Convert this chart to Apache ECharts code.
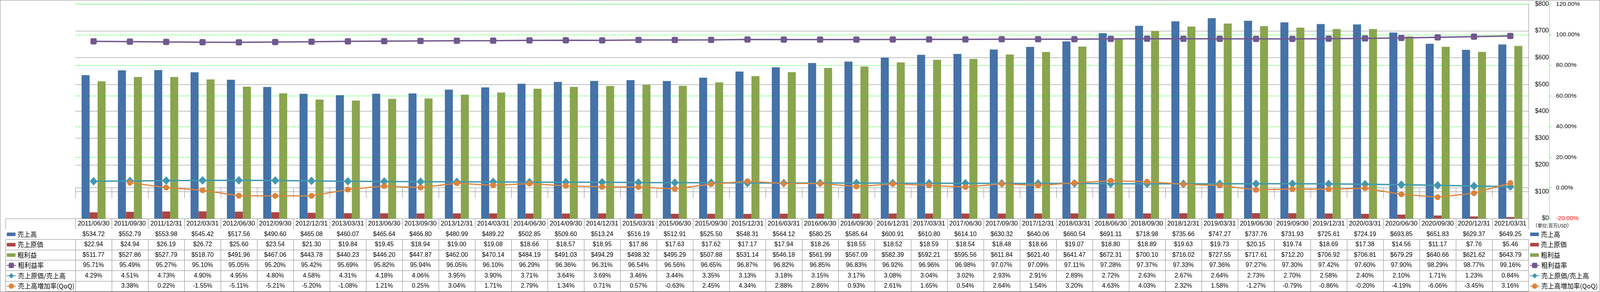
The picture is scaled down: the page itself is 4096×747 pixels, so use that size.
<!DOCTYPE html>
<html><head><meta charset="utf-8">
<script src="https://cdn.jsdelivr.net/npm/echarts@6/dist/echarts.min.js"></script>
<style>html,body{margin:0;padding:0;background:#fff}#c{width:4096px;height:747px}</style>
</head><body><div id="c"></div>
<script>
// ---------- data ----------
const categories = ['2011/06/30','2011/09/30','2011/12/31','2012/03/31','2012/06/30','2012/09/30','2012/12/31','2013/03/31','2013/06/30','2013/09/30','2013/12/31','2014/03/31','2014/06/30','2014/09/30','2014/12/31','2015/03/31','2015/06/30','2015/09/30','2015/12/31','2016/03/31','2016/06/30','2016/09/30','2016/12/31','2017/03/31','2017/06/30','2017/09/30','2017/12/31','2018/03/31','2018/06/30','2018/09/30','2018/12/31','2019/03/31','2019/06/30','2019/09/30','2019/12/31','2020/03/31','2020/06/30','2020/09/30','2020/12/31','2021/03/31'];
const sales = [534.72,552.79,553.98,545.42,517.56,490.60,465.08,460.07,465.64,466.80,480.99,489.22,502.85,509.60,513.24,516.19,512.91,525.50,548.31,564.12,580.25,585.64,600.91,610.80,614.10,630.32,640.06,660.54,691.11,718.98,735.66,747.27,737.76,731.93,725.61,724.19,693.85,651.83,629.37,649.25];
const cogs = [22.94,24.94,26.19,26.72,25.60,23.54,21.30,19.84,19.45,18.94,19.00,19.08,18.66,18.57,18.95,17.86,17.63,17.62,17.17,17.94,18.26,18.55,18.52,18.59,18.54,18.48,18.66,19.07,18.80,18.89,19.63,19.73,20.15,19.74,18.69,17.38,14.56,11.17,7.76,5.46];
const grossProfit = [511.77,527.86,527.79,518.70,491.96,467.06,443.78,440.23,446.20,447.87,462.00,470.14,484.19,491.03,494.29,498.32,495.29,507.88,531.14,546.18,561.99,567.09,582.39,592.21,595.56,611.84,621.40,641.47,672.31,700.10,716.02,727.55,717.61,712.20,706.92,706.81,679.29,640.66,621.62,643.79];
const grossMargin = [95.71,95.49,95.27,95.10,95.05,95.20,95.42,95.69,95.82,95.94,96.05,96.10,96.29,96.36,96.31,96.54,96.56,96.65,96.87,96.82,96.85,96.83,96.92,96.96,96.98,97.07,97.09,97.11,97.28,97.37,97.33,97.36,97.27,97.30,97.42,97.60,97.90,98.29,98.77,99.16];
const cogsRatio = [4.29,4.51,4.73,4.90,4.95,4.80,4.58,4.31,4.18,4.06,3.95,3.90,3.71,3.64,3.69,3.46,3.44,3.35,3.13,3.18,3.15,3.17,3.08,3.04,3.02,2.93,2.91,2.89,2.72,2.63,2.67,2.64,2.73,2.70,2.58,2.40,2.10,1.71,1.23,0.84];
const salesQoQ = [null,3.38,0.22,-1.55,-5.11,-5.21,-5.20,-1.08,1.21,0.25,3.04,1.71,2.79,1.34,0.71,0.57,-0.63,2.45,4.34,2.88,2.86,0.93,2.61,1.65,0.54,2.64,1.54,3.20,4.63,4.03,2.32,1.58,-1.27,-0.79,-0.86,-0.20,-4.19,-6.06,-3.45,3.16];

const seriesNames = ['売上高','売上原価','粗利益','粗利益率','売上原価/売上高','売上高増加率(QoQ)'];
const unitLabel = '（単位:百万USD）';
const moneyAxis = {min: 0, max: 800, interval: 100};
const pctAxis = {min: -20, max: 120, interval: 20};

// ---------- layout / style ----------
const S = 0.697;
const W = 4096, H = 747;
const LATIN = '"Liberation Sans", Arial, sans-serif';
const CJK = '"Noto Sans CJK JP", sans-serif';
const LINE = '#878787';
const GREEN = '#00ff00';
const C = {blue:'#4572A7', red:'#AA4643', green:'#89A54E', purple:'#71588F', aqua:'#4198AF', orange:'#DB843D'};

const gridLeft = 277 * S, gridRightX = 5614 * S, gridTop = 15 * S, gridBottomY = 802 * S;
const catRowH = 39 * S, rowH = 38.05 * S;

const money = v => '$' + v.toFixed(2);
const pct = v => v.toFixed(2) + '%';
const tableRows = [
  {data: sales, fmt: money},
  {data: cogs, fmt: money},
  {data: grossProfit, fmt: money},
  {data: grossMargin, fmt: pct},
  {data: cogsRatio, fmt: pct},
  {data: salesQoQ, fmt: pct}
];

const lineStyleTable = {color: LINE, width: 1};
const xAxes = [{
  type: 'category', data: categories, gridIndex: 0, position: 'bottom', offset: 0, boundaryGap: true,
  axisLine: {show: true, lineStyle: lineStyleTable},
  axisTick: {show: true, interval: 0, length: catRowH, lineStyle: lineStyleTable},
  axisLabel: {interval: 0, margin: catRowH / 2, verticalAlign: 'middle', fontSize: 16.5, color: '#000', fontFamily: LATIN},
  splitLine: {show: false}
}];
tableRows.forEach((r, i) => {
  xAxes.push({
    type: 'category', data: categories, gridIndex: 0, position: 'bottom', offset: catRowH + i * rowH, boundaryGap: true,
    axisLine: {show: true, lineStyle: lineStyleTable},
    axisTick: {show: true, interval: 0, length: rowH, lineStyle: lineStyleTable},
    axisLabel: {interval: 0, margin: rowH / 2, verticalAlign: 'middle', fontSize: 15.8, color: '#000', fontFamily: LATIN,
      formatter: (val, idx) => r.data[idx] == null ? '' : r.fmt(r.data[idx])},
    splitLine: {show: false}
  });
});
xAxes.push({
  type: 'category', data: categories, gridIndex: 0, position: 'bottom', offset: catRowH + tableRows.length * rowH,
  axisLine: {show: true, lineStyle: lineStyleTable}, axisTick: {show: false}, axisLabel: {show: false}, splitLine: {show: false}
});
// header column lines (grid 1)
for (let k = 0; k <= tableRows.length; k++) {
  xAxes.push({
    type: 'category', data: [''], gridIndex: 1, position: 'bottom', offset: catRowH + k * rowH, boundaryGap: true,
    axisLine: {show: true, lineStyle: lineStyleTable},
    axisTick: {show: k < tableRows.length, interval: 0, length: rowH, lineStyle: lineStyleTable},
    axisLabel: {show: false}, splitLine: {show: false}
  });
}

function legend(names, left, top, isBar) {
  return {
    orient: 'vertical', left: left, top: top, padding: 0, itemGap: 0,
    itemWidth: isBar ? 32 * S : 24, itemHeight: isBar ? 13 * S : 17,
    selectedMode: false,
    data: names.map(n => isBar ? {name: n, icon: 'rect'} : {name: n}),
    textStyle: {fontFamily: CJK, fontSize: 16.5, color: '#000', lineHeight: rowH}
  };
}
const row1Top = gridBottomY + catRowH;
const row4Top = row1Top + 3 * rowH;

const option = {
  animation: false,
  backgroundColor: '#fff',
  title: {text: unitLabel, left: 5630 * S, top: 830 * S - 7.5, padding: 0,
    textStyle: {fontSize: 12, fontWeight: 'normal', fontFamily: CJK, color: '#000'}},
  legend: [
    legend(seriesNames.slice(0, 3), 25 * S, row1Top, true),
    legend(seriesNames.slice(3), 23 * S, row4Top, false),
    legend(seriesNames.slice(0, 3), 5620 * S, row1Top, true),
    legend(seriesNames.slice(3), 5618 * S, row4Top, false)
  ],
  grid: [
    {left: gridLeft, right: W - gridRightX, top: gridTop, bottom: H - gridBottomY, containLabel: false},
    {left: 21 * S, width: gridLeft - 21 * S, top: gridTop, bottom: H - gridBottomY, containLabel: false}
  ],
  xAxis: xAxes,
  yAxis: [
    {type: 'value', gridIndex: 0, position: 'right', offset: 0, min: moneyAxis.min, max: moneyAxis.max, interval: moneyAxis.interval,
      axisLine: {show: true, lineStyle: {color: LINE, width: 1}}, axisTick: {show: false},
      axisLabel: {margin: 52, align: 'right', formatter: v => '$' + v, fontSize: 15.8, color: '#000', fontFamily: LATIN},
      splitLine: {show: true, lineStyle: {color: LINE, width: 1}}},
    {type: 'value', gridIndex: 0, position: 'right', offset: 53, min: pctAxis.min, max: pctAxis.max, interval: pctAxis.interval,
      axisLine: {show: true, lineStyle: {color: GREEN, width: 1, type: [3, 2]}},
      axisTick: {show: true, inside: false, length: 6, lineStyle: {color: GREEN, width: 1}},
      axisLabel: {margin: 17.4, align: 'left', fontSize: 15.5, color: '#000', fontFamily: LATIN,
        formatter: v => v < 0 ? '{neg|' + pct(v) + '}' : pct(v),
        rich: {neg: {color: '#ff0000', fontSize: 15.5, fontFamily: LATIN}}},
      splitLine: {show: true, lineStyle: {color: GREEN, width: 1, type: [5, 2]}}},
    {type: 'value', gridIndex: 1, show: false}
  ],
  graphic: [{type: 'rect', silent: true, z: 100, shape: {x: 0.5, y: 0.5, width: W - 1, height: H - 1},
    style: {fill: 'none', stroke: LINE, lineWidth: 1}}],
  series: [
    {name: seriesNames[0], type: 'bar', xAxisIndex: 0, yAxisIndex: 0, data: sales, itemStyle: {color: C.blue}, barGap: '0%', barCategoryGap: '34%'},
    {name: seriesNames[1], type: 'bar', xAxisIndex: 0, yAxisIndex: 0, data: cogs, itemStyle: {color: C.red}, barGap: '0%', barCategoryGap: '34%'},
    {name: seriesNames[2], type: 'bar', xAxisIndex: 0, yAxisIndex: 0, data: grossProfit, itemStyle: {color: C.green}, barGap: '0%', barCategoryGap: '34%'},
    {name: seriesNames[3], type: 'line', xAxisIndex: 0, yAxisIndex: 1, data: grossMargin, symbol: 'roundRect', symbolSize: 16, showAllSymbol: true,
      itemStyle: {color: C.purple}, lineStyle: {color: C.purple, width: 3.5}},
    {name: seriesNames[4], type: 'line', xAxisIndex: 0, yAxisIndex: 1, data: cogsRatio, symbol: 'diamond', symbolSize: [20, 22], showAllSymbol: true,
      itemStyle: {color: C.aqua}, lineStyle: {color: C.aqua, width: 3.5}},
    {name: seriesNames[5], type: 'line', xAxisIndex: 0, yAxisIndex: 1, data: salesQoQ, symbol: 'circle', symbolSize: 15, showAllSymbol: true,
      itemStyle: {color: C.orange}, lineStyle: {color: C.orange, width: 3}}
  ]
};
const chart = echarts.init(document.getElementById('c'), null, {renderer: 'canvas'});
chart.setOption(option);
</script></body></html>
